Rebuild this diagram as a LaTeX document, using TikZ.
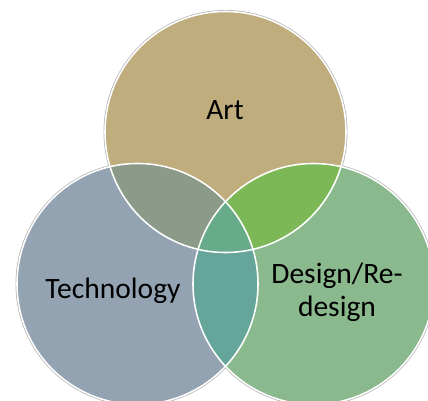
\documentclass[tikz,border=0pt]{standalone}
\usepackage{fontspec}
\setmainfont{Carlito}
\usetikzlibrary{positioning}
\definecolor{artfill}{HTML}{BFAD7E}
\definecolor{techfill}{HTML}{93A3B2}
\definecolor{desfill}{HTML}{8AB98E}
\definecolor{atfill}{HTML}{8C9A89}
\definecolor{adfill}{HTML}{7DB857}
\definecolor{tdfill}{HTML}{65A59A}
\definecolor{allfill}{HTML}{68AB8A}
\tikzset{rand/.style={draw=black!30, line width=2.1pt},
         kant/.style={draw=white, line width=1.1pt}}
\begin{document}
\begin{tikzpicture}[x=0.025cm, y=-0.025cm, every node/.style={font=\fontsize{21}{23.5}\selectfont, text=black}]
            \useasboundingbox (0,0) rectangle (428,401);
            \clip (0,0) rectangle (428,401);
            \coordinate (A) at (225.5,132);
            \coordinate (T) at (137.5,284);
            \coordinate (D) at (313.5,284);
            \def\rad{120.5}

            % outer grey rim
            \foreach \c in {A,T,D} \path[rand] (\c) circle[radius=\rad];

            % circles
            \fill[artfill]  (A) circle[radius=\rad];
            \fill[techfill] (T) circle[radius=\rad];
            \fill[desfill]  (D) circle[radius=\rad];

            % overlaps
            \begin{scope}
                \clip (A) circle[radius=\rad];
                \fill[atfill] (T) circle[radius=\rad];
                \fill[adfill] (D) circle[radius=\rad];
            \end{scope}
            \begin{scope}
                \clip (T) circle[radius=\rad];
                \fill[tdfill] (D) circle[radius=\rad];
                \clip (D) circle[radius=\rad];
                \fill[allfill] (A) circle[radius=\rad];
            \end{scope}

            % white edges
            \foreach \c in {A,T,D} \path[kant] (\c) circle[radius=\rad];

            \node (art) at (225,110) {Art};
            \node (tech) at (113,291) {Technology};
            \node[align=center] (design) at (337,292) {Design/Re-\\design};
        \end{tikzpicture}
\end{document}
